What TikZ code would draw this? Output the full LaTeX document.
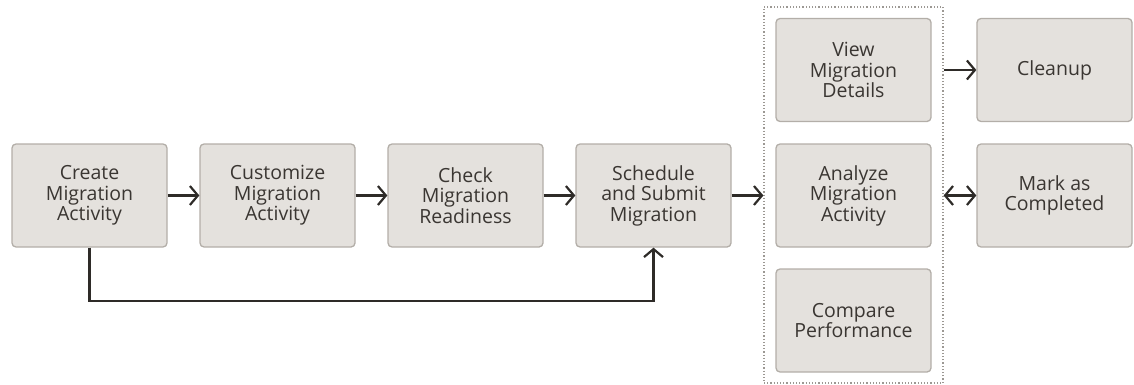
\documentclass[tikz,border=0pt]{standalone}
\usepackage{fontspec}
\setmainfont{Open Sans}
\usetikzlibrary{arrows.meta}
\definecolor{boxfill}{HTML}{E4E1DD}
\definecolor{boxline}{HTML}{B3AEA8}
\definecolor{txt}{HTML}{3A3632}
\definecolor{arr}{HTML}{2E2B28}
\definecolor{frame}{HTML}{9C9893}
\begin{document}
\begin{tikzpicture}[x=1pt,y=-1pt,
  stepbox/.style={draw=boxline, line width=1.3pt, fill=boxfill, rounded corners=4pt,
    minimum width=155pt, minimum height=103pt, align=center, text=txt,
    font=\fontsize{19.5}{20.5}\selectfont, inner sep=0pt},
  tip/.style={Straight Barb[length=8pt,width=19pt,line width=2.2pt]},
  conn/.style={draw=arr, line width=2.2pt, -{Straight Barb[length=8pt,width=19pt,line width=2.2pt]}},
  bconn/.style={draw=arr, line width=2.2pt, {Straight Barb[length=8pt,width=19pt,line width=2.2pt]}-{Straight Barb[length=8pt,width=19pt,line width=2.2pt]}}]
\useasboundingbox (0,0) rectangle (1134,385);
\node[draw=frame, dotted, line width=1.2pt, minimum width=179pt, minimum height=376pt, inner sep=0pt] (fr) at (853.5,195) {};
\node[stepbox] (a) at (89.5,195.5) {Create\\Migration\\Activity};
\node[stepbox] (b) at (277.5,195.5) {Customize\\Migration\\Activity};
\node[stepbox] (c) at (465.5,195.5) {Check\\Migration\\Readiness};
\node[stepbox] (d) at (653.5,195.5) {Schedule\\and Submit\\Migration};
\node[stepbox] (v) at (853.5,70) {View\\Migration\\Details};
\node[stepbox] (an) at (853.5,195.5) {Analyze\\Migration\\Activity};
\node[stepbox] (cp) at (853.5,320.5) {Compare\\Performance};
\node[stepbox] (cl) at (1054.5,70) {Cleanup};
\node[stepbox] (mk) at (1054.5,195.5) {Mark as\\Completed};
\draw[conn] (a) -- (b);
\draw[conn] (b) -- (c);
\draw[conn] (c) -- (d);
\draw[conn] (d) -- (d.east -| fr.west);
\draw[conn] (v.east -| fr.east) -- (cl);
\draw[bconn] (an.east -| fr.east) -- (mk);
\draw[conn] (a.south) -- ++(0,53) -| (d.south);
\end{tikzpicture}
\end{document}
